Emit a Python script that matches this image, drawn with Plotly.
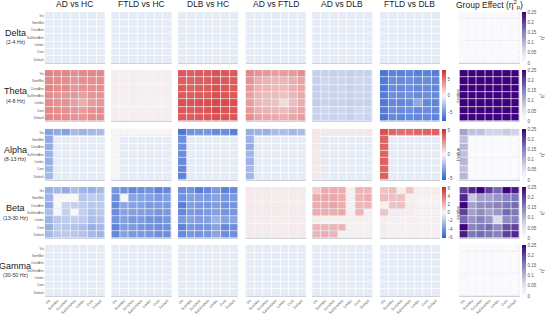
import plotly.graph_objects as go

N = None
networks = ["Vis", "SomMot", "DorsAttn", "SalVentAttn", "Limbic", "Cont", "Default"]
comparisons = ["AD vs HC", "FTLD vs HC", "DLB vs HC", "AD vs FTLD", "AD vs DLB", "FTLD vs DLB"]
group_title = "Group Effect (η<sup>2</sup><sub>p</sub>)"
bands = ["Delta", "Theta", "Alpha", "Beta", "Gamma"]
band_ranges = ["(2-4 Hz)", "(4-8 Hz)", "(8-13 Hz)", "(13-30 Hz)", "(30-50 Hz)"]
t_limits = [4, 7.7, 5.3, 6.3, 4]
t_dticks = [2, 5, 5, 2, 2]
eta_ticks = [0, 0.05, 0.1, 0.15, 0.2, 0.25]

nan_matrix = [[N] * 7 for _ in range(7)]

# ---------------- Delta ----------------
delta_group = [
    [0.006, 0.004, 0.005, 0.003, 0.004, 0.004, 0.005],
    [0.004, 0.003, 0.004, 0.003, 0.003, 0.004, 0.004],
    [0.005, 0.004, 0.003, 0.003, 0.004, 0.003, 0.004],
    [0.003, 0.003, 0.003, 0.004, 0.003, 0.004, 0.003],
    [0.004, 0.003, 0.004, 0.003, 0.005, 0.003, 0.004],
    [0.004, 0.004, 0.003, 0.004, 0.003, 0.004, 0.003],
    [0.005, 0.004, 0.004, 0.003, 0.004, 0.003, 0.005]]

# ---------------- Theta ----------------
theta_ad_hc = [
    [4.4, 4.2, 4.3, 4.0, 4.1, 4.2, 4.3],
    [4.2, 4.1, 4.0, 3.8, 3.9, 4.0, 4.1],
    [4.3, 4.0, 4.1, 3.7, 3.8, 3.9, 4.0],
    [4.0, 3.8, 3.7, 3.6, 3.3, 3.7, 3.8],
    [4.1, 3.9, 3.8, 3.3, 2.7, 3.4, 3.7],
    [4.2, 4.0, 3.9, 3.7, 3.4, 3.8, 4.0],
    [4.3, 4.1, 4.0, 3.8, 3.7, 4.0, 4.1]]
theta_ftld_hc = [
    [0.40, 0.35, 0.36, 0.33, 0.30, 0.34, 0.36],
    [0.35, 0.32, 0.33, 0.30, 0.28, 0.31, 0.33],
    [0.36, 0.33, 0.34, 0.31, 0.29, 0.32, 0.34],
    [0.33, 0.30, 0.31, 0.30, 0.27, 0.30, 0.31],
    [0.30, 0.28, 0.29, 0.27, 0.25, 0.28, 0.29],
    [0.34, 0.31, 0.32, 0.30, 0.28, 0.31, 0.33],
    [0.36, 0.33, 0.34, 0.31, 0.29, 0.33, 0.35]]
theta_dlb_hc = [
    [6.0, 5.8, 5.9, 5.9, 6.3, 6.0, 5.9],
    [5.8, 5.6, 5.7, 5.8, 6.2, 5.9, 5.8],
    [5.9, 5.7, 5.8, 5.9, 6.3, 6.0, 5.9],
    [5.9, 5.8, 5.9, 5.9, 6.4, 6.1, 6.0],
    [6.3, 6.2, 6.3, 6.4, 6.6, 6.5, 6.3],
    [6.0, 5.9, 6.0, 6.1, 6.5, 6.2, 6.1],
    [5.9, 5.8, 5.9, 6.0, 6.3, 6.1, 6.0]]
theta_ad_ftld = [
    [4.2, 3.8, 3.6, 3.3, 3.4, 3.6, 4.0],
    [3.8, 2.8, 2.6, 2.5, 2.4, 2.7, 3.2],
    [3.6, 2.6, 2.5, 2.3, 2.2, 2.6, 3.0],
    [3.3, 2.5, 2.3, 2.3, 2.0, 2.4, 2.9],
    [3.4, 2.4, 2.2, 2.0, 1.0, 2.2, 2.8],
    [3.6, 2.7, 2.6, 2.4, 2.2, 2.6, 3.0],
    [4.0, 3.2, 3.0, 2.9, 2.8, 3.0, 3.4]]
theta_ad_dlb = [
    [-2.0, -1.9, -2.0, -1.9, -2.1, -1.8, -1.9],
    [-1.9, -1.6, -1.7, -1.7, -1.8, -1.6, -1.7],
    [-2.0, -1.7, -1.8, -1.7, -1.9, -1.7, -1.8],
    [-1.9, -1.7, -1.7, -1.6, -1.8, -1.6, -1.7],
    [-2.1, -1.8, -1.9, -1.8, -1.9, -1.8, -1.9],
    [-1.8, -1.6, -1.7, -1.6, -1.8, -1.5, -1.6],
    [-1.9, -1.7, -1.8, -1.7, -1.9, -1.6, -1.8]]
theta_ftld_dlb = [
    [-6.6, -6.0, -6.1, -5.9, -6.2, -6.0, -6.2],
    [-6.4, -5.4, -5.5, -5.3, -5.6, -5.4, -5.6],
    [-6.4, -5.5, -5.6, -5.4, -5.7, -5.5, -5.7],
    [-6.3, -5.3, -5.4, -5.2, -5.5, -5.3, -5.5],
    [-6.4, -5.6, -5.7, -5.5, -4.0, -5.6, -5.8],
    [-6.3, -5.4, -5.5, -5.3, -5.6, -5.4, -5.6],
    [-6.5, -5.6, -5.7, -5.5, -5.8, -5.6, -5.9]]
theta_group = [
    [0.36, 0.34, 0.35, 0.33, 0.34, 0.35, 0.36],
    [0.34, 0.32, 0.33, 0.31, 0.32, 0.33, 0.34],
    [0.35, 0.33, 0.34, 0.32, 0.33, 0.34, 0.35],
    [0.33, 0.31, 0.32, 0.31, 0.31, 0.32, 0.33],
    [0.34, 0.32, 0.33, 0.31, 0.30, 0.33, 0.34],
    [0.35, 0.33, 0.34, 0.32, 0.33, 0.34, 0.35],
    [0.36, 0.34, 0.35, 0.33, 0.34, 0.35, 0.36]]

# ---------------- Alpha ----------------
alpha_ad_hc = [
    [-3.0, -2.7, -3.0, -2.2, -2.4, -2.2, -2.1],
    [-2.7, N, N, N, N, N, N],
    [-2.6, N, N, N, N, N, N],
    [-2.4, N, N, N, N, N, N],
    [-2.5, N, N, N, N, N, N],
    [-2.3, N, N, N, N, N, N],
    [-2.2, N, N, N, N, N, N]]
alpha_ftld_hc = [
    [0.06, 0.05, 0.05, 0.04, 0.04, 0.05, 0.05],
    [0.05, N, N, N, N, N, N],
    [0.05, N, N, N, N, N, N],
    [0.04, N, N, N, N, N, N],
    [0.04, N, N, N, N, N, N],
    [0.05, N, N, N, N, N, N],
    [0.05, N, N, N, N, N, N]]
alpha_dlb_hc = [
    [-4.5, -3.6, -3.4, -3.4, -3.8, -3.7, -4.2],
    [-3.6, N, N, N, N, N, N],
    [-3.6, N, N, N, N, N, N],
    [-3.7, N, N, N, N, N, N],
    [-3.8, N, N, N, N, N, N],
    [-3.9, N, N, N, N, N, N],
    [-4.0, N, N, N, N, N, N]]
alpha_ad_ftld = [
    [-2.6, -2.4, -2.5, -2.1, -2.0, -2.3, -2.1],
    [-2.4, N, N, N, N, N, N],
    [-2.6, N, N, N, N, N, N],
    [-2.3, N, N, N, N, N, N],
    [-2.4, N, N, N, N, N, N],
    [-2.2, N, N, N, N, N, N],
    [-2.3, N, N, N, N, N, N]]
alpha_ad_dlb = [
    [0.45, 0.40, 0.40, 0.38, 0.40, 0.40, 0.42],
    [0.40, N, N, N, N, N, N],
    [0.40, N, N, N, N, N, N],
    [0.38, N, N, N, N, N, N],
    [0.40, N, N, N, N, N, N],
    [0.40, N, N, N, N, N, N],
    [0.42, N, N, N, N, N, N]]
alpha_ftld_dlb = [
    [4.3, 3.8, 3.6, 3.6, 3.7, 3.8, 3.9],
    [3.8, N, N, N, N, N, N],
    [3.8, N, N, N, N, N, N],
    [3.8, N, N, N, N, N, N],
    [3.9, N, N, N, N, N, N],
    [3.8, N, N, N, N, N, N],
    [3.9, N, N, N, N, N, N]]
alpha_group = [
    [0.12, 0.09, 0.09, 0.07, 0.07, 0.08, 0.07],
    [0.09, 0.003, 0.003, 0.003, 0.003, 0.003, 0.003],
    [0.10, 0.003, 0.003, 0.003, 0.003, 0.003, 0.003],
    [0.09, 0.003, 0.003, 0.003, 0.003, 0.003, 0.003],
    [0.10, 0.003, 0.003, 0.003, 0.003, 0.003, 0.003],
    [0.09, 0.003, 0.003, 0.003, 0.003, 0.003, 0.003],
    [0.10, 0.003, 0.003, 0.003, 0.003, 0.003, 0.003]]

# ---------------- Beta ----------------
beta_ad_hc = [
    [-3.0, -2.6, -3.2, -2.4, -2.8, -3.0, -2.6],
    [-2.8, 0.0, 0.0, 0.0, -2.0, -1.8, -2.0],
    [-3.2, 0.0, -1.5, -1.6, -1.8, -2.0, -1.9],
    [-2.4, 0.0, -1.6, 0.0, -1.7, -2.2, -2.0],
    [-2.8, -2.0, -1.8, -1.7, -1.8, -2.4, -2.2],
    [-3.0, -1.8, -2.0, -2.2, -2.4, -3.0, -2.6],
    [-2.6, -2.0, -1.9, -2.0, -2.2, -2.6, -2.8]]
beta_ftld_hc = [
    [-4.0, -4.2, -4.6, -4.4, -4.2, -4.8, -4.6],
    [-4.2, 0.0, -3.4, -3.5, -3.6, -3.8, -3.6],
    [-4.6, -3.4, -3.5, -3.6, -3.9, -3.8, -3.9],
    [-4.4, -3.5, -3.6, -3.7, -3.8, -4.0, -3.9],
    [-4.2, -3.6, -3.9, -3.8, -4.2, -4.2, -4.0],
    [-4.8, -3.8, -3.8, -4.0, -4.2, -4.4, -4.3],
    [-4.6, -3.6, -3.9, -3.9, -4.0, -4.3, -4.4]]
beta_dlb_hc = [
    [-4.4, -4.2, -5.0, -4.6, -3.9, -4.9, -4.5],
    [-4.2, -3.6, -3.7, -3.8, -3.5, -4.0, -3.9],
    [-5.0, -3.7, -3.9, -4.0, -3.7, -4.2, -4.1],
    [-4.6, -3.8, -4.0, -3.8, -3.6, -4.1, -4.0],
    [-3.9, -3.5, -3.7, -3.6, -2.8, -3.5, -3.4],
    [-4.9, -4.0, -4.2, -4.1, -3.5, -4.6, -4.4],
    [-4.5, -3.9, -4.1, -4.0, -3.4, -4.4, -4.3]]
beta_ad_ftld = [
    [0.45, 0.40, 0.42, 0.40, 0.38, 0.42, 0.40],
    [0.40, 0.36, 0.38, 0.37, 0.35, 0.38, 0.37],
    [0.42, 0.38, 0.40, 0.38, 0.36, 0.39, 0.38],
    [0.40, 0.37, 0.38, 0.37, 0.35, 0.38, 0.37],
    [0.38, 0.35, 0.36, 0.35, 0.34, 0.36, 0.35],
    [0.42, 0.38, 0.39, 0.38, 0.36, 0.40, 0.39],
    [0.40, 0.37, 0.38, 0.37, 0.35, 0.39, 0.38]]
beta_ad_dlb = [
    [1.3, 2.3, 2.3, 2.3, 0.2, 2.0, 2.0],
    [2.3, 2.4, 2.4, 2.3, 0.2, 2.0, 2.2],
    [2.3, 2.4, 2.5, 2.3, 0.2, 2.0, 2.0],
    [2.3, 2.3, 2.3, 2.4, 0.2, 2.0, 0.2],
    [0.3, 0.2, 0.2, 0.2, 0.2, 0.2, 0.2],
    [2.0, 2.0, 2.0, 2.0, 0.2, 0.2, 0.2],
    [2.0, 2.2, 2.0, 0.2, 0.2, 0.2, 0.2]]
beta_ftld_dlb = [
    [1.6, 1.8, 0.3, 1.6, 0.3, 0.3, 0.3],
    [1.8, 1.7, 1.6, 0.3, 0.2, 0.2, 0.2],
    [0.3, 1.6, 1.7, 0.3, 0.2, 0.2, 0.2],
    [1.6, 0.3, 0.3, 0.3, 0.2, 0.2, 0.2],
    [0.3, 0.2, 0.2, 0.2, 0.2, 0.2, 0.2],
    [0.3, 0.2, 0.2, 0.2, 0.2, 0.2, 0.2],
    [0.3, 0.2, 0.2, 0.2, 0.2, 0.2, 0.2]]
beta_group = [
    [0.20, 0.22, 0.26, 0.20, 0.17, 0.25, 0.23],
    [0.22, 0.08, 0.12, 0.12, 0.13, 0.15, 0.16],
    [0.26, 0.12, 0.14, 0.14, 0.15, 0.16, 0.17],
    [0.20, 0.12, 0.14, 0.12, 0.13, 0.17, 0.16],
    [0.17, 0.13, 0.15, 0.13, 0.06, 0.14, 0.15],
    [0.25, 0.15, 0.16, 0.17, 0.14, 0.19, 0.20],
    [0.23, 0.16, 0.17, 0.16, 0.15, 0.20, 0.22]]

# ---------------- Gamma ----------------
gamma_group = [
    [0.004, 0.003, 0.004, 0.003, 0.006, 0.003, 0.004],
    [0.003, 0.002, 0.003, 0.002, 0.003, 0.002, 0.003],
    [0.004, 0.003, 0.003, 0.003, 0.003, 0.003, 0.003],
    [0.003, 0.002, 0.003, 0.002, 0.003, 0.002, 0.003],
    [0.006, 0.003, 0.003, 0.003, 0.004, 0.003, 0.003],
    [0.003, 0.002, 0.003, 0.002, 0.003, 0.002, 0.003],
    [0.004, 0.003, 0.003, 0.003, 0.003, 0.003, 0.004]]

band_t = [
    [nan_matrix] * 6,
    [theta_ad_hc, theta_ftld_hc, theta_dlb_hc, theta_ad_ftld, theta_ad_dlb, theta_ftld_dlb],
    [alpha_ad_hc, alpha_ftld_hc, alpha_dlb_hc, alpha_ad_ftld, alpha_ad_dlb, alpha_ftld_dlb],
    [beta_ad_hc, beta_ftld_hc, beta_dlb_hc, beta_ad_ftld, beta_ad_dlb, beta_ftld_dlb],
    [nan_matrix] * 6,
]
band_group = [delta_group, theta_group, alpha_group, beta_group, gamma_group]

# ---------------- layout geometry (pixels) ----------------
W, H = 545, 315
col_left = [45, 112, 179, 247, 314, 382, 462]
col_w = 60.5
row_top = [12, 71, 130.5, 189.5, 248]
row_h = 52
FONT = "Liberation Sans, Arial, Helvetica, sans-serif"
t_scale = [[0, "#2f5fcf"], [0.5, "#f8f7f7"], [1, "#d42a2a"]]
GRID = "rgba(255,255,255,0.75)"

idx = list(range(7))
fig = go.Figure()
layout = dict(
    width=W, height=H, margin=dict(l=0, r=0, t=0, b=0),
    paper_bgcolor="white", plot_bgcolor="#E5ECF6",
    font=dict(family=FONT, color="#333"), showlegend=False,
)
annotations = []

for r in range(5):
    y0 = 1 - (row_top[r] + row_h) / H
    y1 = 1 - row_top[r] / H
    ca_t = 2 * r + 1
    ca_g = 2 * r + 2
    for c in range(7):
        k = r * 7 + c + 1
        if c < 6:
            z = band_t[r][c]
            cname = "coloraxis" if ca_t == 1 else f"coloraxis{ca_t}"
        else:
            z = band_group[r]
            cname = f"coloraxis{ca_g}"
        fig.add_trace(go.Heatmap(
            z=z, x=idx, y=idx, coloraxis=cname, xgap=0.7, ygap=0.7,
            hoverongaps=False, xaxis=f"x{k}", yaxis=f"y{k}"))
        x0 = col_left[c] / W
        x1 = (col_left[c] + col_w) / W
        xa = dict(
            domain=[x0, x1], anchor=f"y{k}", range=[-0.5, 6.5],
            tickmode="array", tickvals=idx, ticktext=networks,
            showticklabels=(r == 4), tickangle=-45,
            tickfont=dict(size=3.6, color="#555"), ticks="",
            showgrid=False, zeroline=False,
            showline=True, linecolor="#cdd2db", linewidth=1,
            minor=dict(tickvals=[i + 0.5 for i in range(6)], showgrid=True,
                       gridcolor=GRID, gridwidth=1),
        )
        ya = dict(
            domain=[y0, y1], anchor=f"x{k}", range=[6.5, -0.5],
            tickmode="array", tickvals=idx, ticktext=networks,
            showticklabels=(c == 0),
            tickfont=dict(size=3.2, color="#555"), ticks="",
            showgrid=False, zeroline=False,
            minor=dict(tickvals=[i + 0.5 for i in range(6)], showgrid=True,
                       gridcolor=GRID, gridwidth=1),
        )
        sfx = "" if k == 1 else str(k)
        layout["xaxis" + sfx] = xa
        layout["yaxis" + sfx] = ya

    ymid = 1 - (row_top[r] + row_h / 2) / H
    lim = t_limits[r]
    layout["coloraxis" if ca_t == 1 else f"coloraxis{ca_t}"] = dict(
        cmin=-lim, cmax=lim, colorscale=t_scale, showscale=True,
        colorbar=dict(
            x=444 / W, xanchor="left", xpad=0, y=ymid, yanchor="middle",
            len=row_h / H, lenmode="fraction", ypad=0, thickness=4,
            outlinewidth=0, tickmode="linear", tick0=0, dtick=t_dticks[r],
            ticks="",
            tickfont=dict(size=4.5, color="#555", family=FONT),
            title=dict(text="t-value", side="right",
                       font=dict(size=4.5, color="#555", family=FONT)),
        ))
    layout[f"coloraxis{ca_g}"] = dict(
        cmin=0, cmax=0.25, colorscale="Purples", showscale=True,
        colorbar=dict(
            x=525 / W, xanchor="left", xpad=0, y=ymid, yanchor="middle",
            len=row_h / H, lenmode="fraction", ypad=0, thickness=4,
            outlinewidth=0, tickmode="array", tickvals=eta_ticks,
            ticktext=[f"{v:g}" for v in eta_ticks],
            ticks="",
            tickfont=dict(size=4.5, color="#555", family=FONT),
            title=dict(text="η<sup>2</sup>", side="right",
                       font=dict(size=4.5, color="#555", family=FONT)),
        ))

    annotations.append(dict(
        text=bands[r], x=15.5 / W, y=1 - (row_top[r] + row_h / 2 - 4.5) / H,
        xref="paper", yref="paper", showarrow=False, xanchor="center",
        yanchor="middle", font=dict(size=9, color="#222", family=FONT)))
    annotations.append(dict(
        text=band_ranges[r], x=15.5 / W, y=1 - (row_top[r] + row_h / 2 + 5) / H,
        xref="paper", yref="paper", showarrow=False, xanchor="center",
        yanchor="middle", font=dict(size=5.3, color="#333", family=FONT)))

titles = comparisons + [group_title]
for c in range(7):
    annotations.append(dict(
        text=titles[c], x=(col_left[c] + col_w / 2) / W, y=1 - 4.5 / H,
        xref="paper", yref="paper", showarrow=False, xanchor="center",
        yanchor="middle", font=dict(size=8.5, color="#222", family=FONT)))

layout["annotations"] = annotations
fig.update_layout(**layout)
fig.write_html("out.html")
